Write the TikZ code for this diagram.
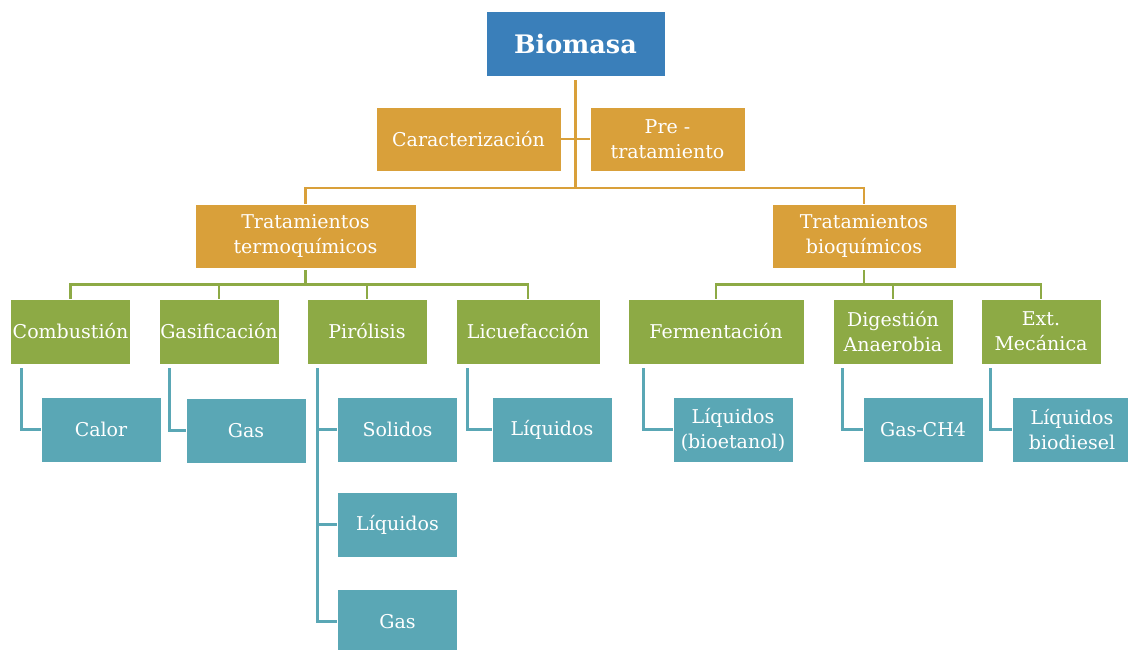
\documentclass[tikz,border=0pt]{standalone}
\usepackage{fontspec}
\setmainfont{DejaVu Serif}
\usetikzlibrary{positioning}
\definecolor{azul}{HTML}{3A7FBA}
\definecolor{ocre}{HTML}{D9A03A}
\definecolor{verde}{HTML}{8DAA45}
\definecolor{turq}{HTML}{5AA7B5}

\tikzset{
  caja/.style={draw=white, line width=0.6pt, text=white, align=center, inner sep=0pt,
    font=\fontsize{19}{25}\selectfont},
  raiz/.style={caja, fill=azul, minimum width=179pt, minimum height=65pt,
    font=\fontsize{25.5}{28}\selectfont\bfseries},
  nivel1/.style={caja, fill=ocre, minimum height=64pt},
  nivel2/.style={caja, fill=verde, minimum width=120pt, minimum height=65pt},
  nivel3/.style={caja, fill=turq, minimum width=120pt, minimum height=65pt},
  linea/.style={line width=2.6pt},
}

\begin{document}
\begin{tikzpicture}[x=1pt,y=-1pt]
  \useasboundingbox (0,0) rectangle (1128,649);
  \node[raiz] (bio) at (575.5,43.5) {Biomasa};
  \node[nivel1, minimum width=185pt] (carac) at (468.5,139) {Caracterización};
  \node[nivel1, minimum width=155pt] (pre) at (667.5,139) {Pre -\\tratamiento};
  \node[nivel1, minimum width=221pt] (termo) at (305.5,236) {Tratamientos\\termoquímicos};
  \node[nivel1, minimum width=184pt] (bioq) at (864,236) {Tratamientos\\bioquímicos};

  \node[nivel2] (comb) at (70.5,331.5) {Combustión};
  \node[nivel2] (gasi) at (219,331.5) {Gasificación};
  \node[nivel2] (piro) at (367,331.5) {Pirólisis};
  \node[nivel2, minimum width=144pt] (licu) at (528,331.5) {Licuefacción};
  \node[nivel2, minimum width=176pt] (ferm) at (716,331.5) {Fermentación};
  \node[nivel2] (dige) at (893,331.5) {Digestión\\Anaerobia};
  \node[nivel2] (ext) at (1041,331.5) {Ext.\\Mecánica};

  \node[nivel3] (calor) at (101,429.5) {Calor};
  \node[nivel3] (gasA) at (246,430.5) {Gas};
  \node[nivel3] (soli) at (397.5,429.5) {Solidos};
  \node[nivel3] (liqA) at (397.5,524.5) {Líquidos};
  \node[nivel3] (gasB) at (397.5,621.5) {Gas};
  \node[nivel3] (liqB) at (552,429.5) {Líquidos};
  \node[nivel3] (liqC) at (733,429.5) {Líquidos\\(bioetanol)};
  \node[nivel3] (ch4) at (923,429.5) {Gas-CH4};
  \node[nivel3] (liqD) at (1072,429.5) {Líquidos\\biodiesel};

  \coordinate (hub) at (575.5,188);
  \draw[linea, ocre] ([yshift=-4pt]bio.south) -- (hub);
  \draw[linea, ocre] (carac.east) -- (pre.west);
  \draw[linea, ocre] (termo.north) |- (hub) -| (bioq.north);

  \draw[linea, verde] ([yshift=-2pt]termo.south) -- ++(0,14) coordinate (tq);
  \draw[linea, verde] (comb.north) |- (tq) -| (licu.north);
  \foreach \n in {gasi,piro}
    \draw[linea, verde] (\n.north) -- (\n.north |- tq);
  \draw[linea, verde] ([yshift=-2pt]bioq.south) -- ++(0,14) coordinate (bq);
  \draw[linea, verde] (ferm.north) |- (bq) -| (ext.north);
  \draw[linea, verde] (dige.north) -- (dige.north |- bq);

  \draw[linea, turq] ([xshift=11pt,yshift=-4pt]comb.south west) |- (calor.west);
  \draw[linea, turq] ([xshift=11pt,yshift=-4pt]gasi.south west) |- (gasA.west);
  \draw[linea, turq] ([xshift=11pt,yshift=-4pt]piro.south west) |- (gasB.west);
  \foreach \n in {soli,liqA}
    \draw[linea, turq] ([xshift=-20pt]\n.west) -- (\n.west);
  \draw[linea, turq] ([xshift=12pt,yshift=-4pt]licu.south west) |- (liqB.west);
  \draw[linea, turq] ([xshift=16pt,yshift=-4pt]ferm.south west) |- (liqC.west);
  \draw[linea, turq] ([xshift=10pt,yshift=-4pt]dige.south west) |- (ch4.west);
  \draw[linea, turq] ([xshift=10pt,yshift=-4pt]ext.south west) |- (liqD.west);
\end{tikzpicture}
\end{document}
